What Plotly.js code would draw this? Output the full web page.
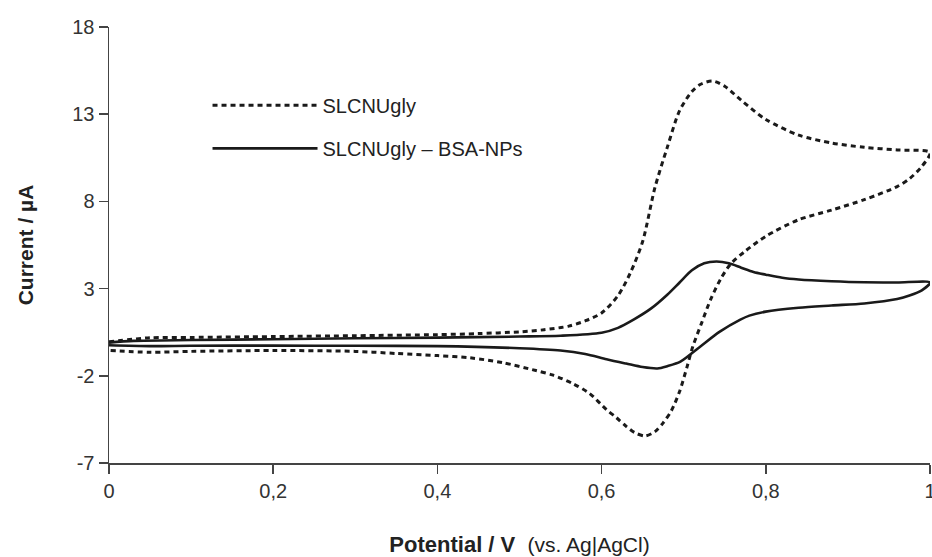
<!DOCTYPE html>
<html>
<head>
<meta charset="utf-8">
<script src="https://cdn.plot.ly/plotly-3.0.1.min.js"></script>
<style>html,body{margin:0;padding:0;background:#fff;}#chart{width:932px;height:557px;}</style>
</head>
<body>
<div id="chart"></div>
<script>
// SLCNUgly (dotted): forward scan then reverse scan
const potentialSLCNUgly = [
  0, 0.05, 0.1, 0.2, 0.3, 0.4, 0.45, 0.5, 0.53, 0.56, 0.58, 0.6, 0.62, 0.635, 0.65, 0.665, 0.68, 0.695, 0.71, 0.72, 0.735, 0.75, 0.77, 0.8, 0.84, 0.88, 0.92, 0.96, 1.0,
  0.99, 0.975, 0.96, 0.92, 0.88, 0.84, 0.80, 0.775, 0.757, 0.745, 0.733, 0.722, 0.711, 0.704, 0.695, 0.685, 0.675, 0.665, 0.653, 0.64, 0.63, 0.618, 0.606, 0.585, 0.565, 0.54, 0.52, 0.48, 0.44, 0.4, 0.35, 0.3, 0.2, 0.1, 0.05, 0
];
const currentSLCNUgly = [
  -0.05, 0.18, 0.2, 0.25, 0.3, 0.36, 0.42, 0.52, 0.64, 0.85, 1.15, 1.6, 2.6, 3.9, 5.7, 8.8, 11.1, 13.2, 14.3, 14.7, 14.9, 14.6, 13.8, 12.7, 11.8, 11.35, 11.1, 10.95, 10.8,
  10.0, 9.3, 8.85, 8.1, 7.5, 6.95, 6.0, 5.15, 4.4, 3.55, 2.4, 1.05, -0.33, -1.5, -2.9, -4.0, -4.7, -5.2, -5.45, -5.25, -4.9, -4.4, -3.94, -3.0, -2.45, -1.95, -1.7, -1.25, -0.97, -0.84, -0.72, -0.6, -0.55, -0.6, -0.65, -0.55
];
// SLCNUgly – BSA-NPs (solid)
const potentialBSA = [
  0, 0.03, 0.1, 0.2, 0.3, 0.4, 0.5, 0.55, 0.6, 0.62, 0.64, 0.66, 0.68, 0.695, 0.71, 0.725, 0.74, 0.755, 0.77, 0.785, 0.8, 0.82, 0.84, 0.88, 0.92, 0.96, 1.0,
  0.99, 0.975, 0.96, 0.92, 0.88, 0.84, 0.8, 0.78, 0.769, 0.744, 0.72, 0.696, 0.68, 0.668, 0.65, 0.63, 0.606, 0.58, 0.55, 0.5, 0.4, 0.3, 0.2, 0.1, 0.05, 0
];
const currentBSA = [
  -0.1, 0.0, 0.05, 0.1, 0.15, 0.19, 0.25, 0.3, 0.47, 0.75, 1.25, 1.85, 2.65, 3.35, 4.05, 4.45, 4.55, 4.45, 4.2, 3.95, 3.8, 3.62, 3.52, 3.42, 3.36, 3.35, 3.35,
  2.9, 2.6, 2.4, 2.15, 2.03, 1.9, 1.68, 1.45, 1.22, 0.53, -0.33, -1.19, -1.45, -1.58, -1.5, -1.3, -1.05, -0.75, -0.55, -0.42, -0.3, -0.28, -0.27, -0.28, -0.3, -0.25
];
const seriesNames = ["SLCNUgly", "SLCNUgly \u2013 BSA-NPs"];
const xTickVals = [0, 0.2, 0.4, 0.6, 0.8, 1];
const xTickText = ["0", "0,2", "0,4", "0,6", "0,8", "1"];
const yTickVals = [-7, -2, 3, 8, 13, 18];
const yTickText = ["-7", "-2", "3", "8", "13", "18"];

const traces = [
  {x: potentialSLCNUgly, y: currentSLCNUgly, name: seriesNames[0], type: 'scatter', mode: 'lines',
   legendgroup: 'a',
   line: {color: '#1a1a1a', width: 3, dash: '5px,4px', shape: 'spline', smoothing: 0.8}},
  {x: potentialBSA, y: currentBSA, name: seriesNames[1], type: 'scatter', mode: 'lines',
   legendgroup: 'b',
   line: {color: '#1a1a1a', width: 2.6, shape: 'spline', smoothing: 0.8}}
];

const axisFont = {family: 'Liberation Sans, Arial, sans-serif', size: 20, color: '#333'};
const layout = {
  width: 932, height: 557,
  margin: {l: 109, r: 2, t: 27, b: 94},
  paper_bgcolor: '#fff', plot_bgcolor: '#fff',
  showlegend: true,
  legend: {x: 0.12, y: 0.865, xanchor: 'left', yanchor: 'top', bgcolor: 'rgba(0,0,0,0)',
           font: {family: 'Liberation Sans, Arial, sans-serif', size: 20, color: '#222'},
           itemwidth: 105, traceorder: 'grouped', tracegroupgap: 14},
  xaxis: {range: [0, 1], tickmode: 'array', tickvals: xTickVals, ticktext: xTickText,
          showgrid: false, zeroline: false, showline: true, linecolor: '#444', linewidth: 1.5,
          ticks: 'outside', ticklen: 9, tickwidth: 1.5, tickcolor: '#444', tickfont: axisFont,
          ticklabeloverflow: 'allow',
          title: {text: '<b>Potential / V</b>  <span style="font-size:21px">(vs. Ag|AgCl)</span>',
                  font: {family: 'Liberation Sans, Arial, sans-serif', size: 22, color: '#222'}, standoff: 37}},
  yaxis: {range: [-7, 18], tickmode: 'array', tickvals: yTickVals, ticktext: yTickText,
          showgrid: false, zeroline: false, showline: true, linecolor: '#444', linewidth: 1.5,
          ticks: 'outside', ticklen: 9, tickwidth: 1.5, tickcolor: '#444', tickfont: axisFont,
          title: {text: '<b>Current / \u00b5A</b>',
                  font: {family: 'Liberation Sans, Arial, sans-serif', size: 21, color: '#222'}, standoff: 33}}
};
Plotly.newPlot('chart', traces, layout, {displayModeBar: false, staticPlot: true});
</script>
</body>
</html>
